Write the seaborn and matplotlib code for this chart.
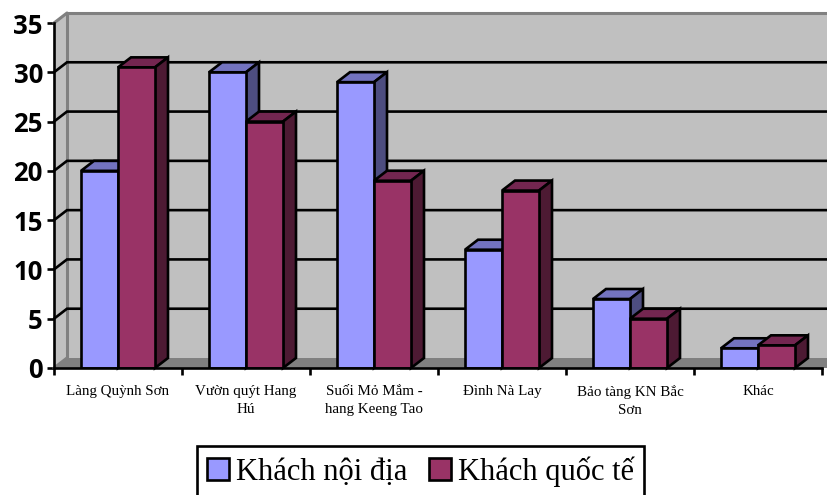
import matplotlib
matplotlib.use('Agg')
import matplotlib.pyplot as plt
from matplotlib.patches import Polygon
from matplotlib.ticker import FixedLocator
import pandas as pd
import seaborn as sns

places = ['Làng Quỳnh Sơn', 'Vườn quýt Hang\nHú', 'Suối Mỏ Mắm -\nhang Keeng Tao',
          'Đình Nà Lay', 'Bảo tàng KN Bắc\nSơn', 'Khác']
noi_dia = [20, 30, 29, 12, 7, 2]
quoc_te = [30.5, 25, 19, 18, 5, 2.3]
series_names = ['Khách nội địa', 'Khách quốc tế']
y_ticks = [0, 5, 10, 15, 20, 25, 30, 35]

front_colors = ['#9999FF', '#993366']
top_colors = ['#7373BF', '#732650']
side_colors = ['#4D4D80', '#4D1A33']

W, H = 827, 495
# size of the fake 3d depth, in data units
DX = 13 / 128
DY = 10 / 9.857
LW = 1.9

df = pd.DataFrame({
    'place': places * 2,
    'value': noi_dia + quoc_te,
    'series': [series_names[0]] * 6 + [series_names[1]] * 6,
})

sns.set_style('ticks')
fig = plt.figure(figsize=(W / 100, H / 100), dpi=100)
ax = fig.add_axes([54 / W, (H - 368) / H, 768 / W, 345 / H])
ax.patch.set_visible(False)

sns.barplot(data=df, x='place', y='value', hue='series', order=places,
            hue_order=series_names, palette=front_colors, saturation=1,
            width=0.578, gap=0, edgecolor='black', linewidth=LW, ax=ax)
ax.set_xlim(-0.5, 5.5)
ax.set_ylim(0, 35)
ax.set_xlabel('')
ax.set_ylabel('')

# walls and floor
x0, x1 = -0.5, 5.7
ax.add_patch(Polygon([(x0 + DX, DY), (x1, DY), (x1, 35 + DY), (x0 + DX, 35 + DY)],
                     fc='#C0C0C0', ec='none', zorder=1, clip_on=False))
ax.add_patch(Polygon([(x0, 0), (x0 + DX, DY), (x0 + DX, 35 + DY), (x0, 35)],
                     fc='#C0C0C0', ec='none', zorder=1, clip_on=False))
ax.add_patch(Polygon([(x0, 0), (x0 + DX, DY), (x1, DY), (x1, 0)],
                     fc='#808080', ec='none', zorder=1.5, clip_on=False))
wall_edge = dict(color='#808080', lw=2.2, zorder=1.8, clip_on=False)
ax.plot([x0 + DX, x0 + DX, x1], [DY, 35 + DY, 35 + DY], **wall_edge)
ax.plot([x0, x0 + DX], [35, 35 + DY], **wall_edge)
ax.plot([x0, x0 + DX], [0, DY], **wall_edge)

# gridlines run across the back wall and down the side wall
for val in y_ticks[1:-1]:
    ax.plot([x0, x0 + DX, x1], [val, val + DY, val + DY], color='black', lw=LW,
            zorder=2, clip_on=False, solid_joinstyle='miter')

# depth faces for each bar
for i, bars in enumerate(ax.containers):
    base_z = 3 + 2 * i
    for bar in bars:
        x, w, h = bar.get_x(), bar.get_width(), bar.get_height()
        ax.add_patch(Polygon([(x, h), (x + DX, h + DY), (x + w + DX, h + DY), (x + w, h)],
                             fc=top_colors[i], ec='black', lw=LW, zorder=base_z, clip_on=False))
        ax.add_patch(Polygon([(x + w, 0), (x + w + DX, DY), (x + w + DX, h + DY), (x + w, h)],
                             fc=side_colors[i], ec='black', lw=LW, zorder=base_z, clip_on=False))
        bar.set_zorder(base_z + 1)

for side in ['top', 'right']:
    ax.spines[side].set_visible(False)
for side in ['left', 'bottom']:
    ax.spines[side].set_linewidth(LW)
    ax.spines[side].set_color('black')
    ax.spines[side].set_zorder(10)

ax.set_yticks(y_ticks)
ax.tick_params(axis='y', length=5, width=LW, color='black', pad=3)
for lab in ax.get_yticklabels():
    lab.set_family('Open Sans')
    lab.set_fontweight('bold')
    lab.set_fontsize(18.5)
    lab.set_color('black')

ax.tick_params(axis='x', which='major', length=0, pad=12)
ax.xaxis.set_minor_locator(FixedLocator([i - 0.5 for i in range(7)]))
ax.tick_params(axis='x', which='minor', length=5, width=LW, color='black')
for lab in ax.get_xticklabels():
    lab.set_family('Liberation Serif')
    lab.set_fontsize(10.8)
    lab.set_color('black')
    lab.set_linespacing(1.55)

sns.move_legend(ax, 'upper center', bbox_to_anchor=(420.5 / W, (H - 446) / H),
                bbox_transform=fig.transFigure, ncol=2, title=None,
                prop={'family': 'Liberation Serif', 'size': 22},
                frameon=True, fancybox=False, framealpha=1, edgecolor='black',
                handlelength=0.72, handleheight=0.72, handletextpad=0.23,
                columnspacing=0.7, borderpad=0.33, borderaxespad=0)
leg = ax.get_legend()
leg.get_frame().set_linewidth(LW)
leg.set_zorder(20)
for text in leg.get_texts():
    text.set_color('black')

fig.savefig('out.png', dpi=100)
